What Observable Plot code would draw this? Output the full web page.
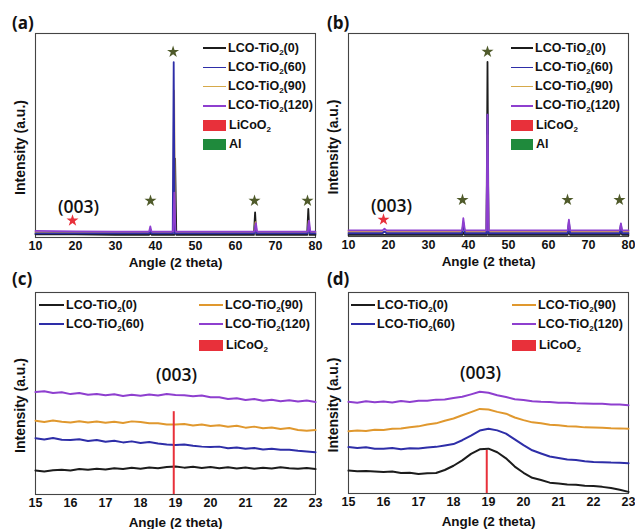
<!DOCTYPE html>
<html><head><meta charset="utf-8">
<script src="https://cdn.jsdelivr.net/npm/d3@7"></script>
<script src="https://cdn.jsdelivr.net/npm/@observablehq/plot@0.6"></script>
<style>
body{margin:0;background:#fff;}
#root{position:relative;width:635px;height:529px;background:#fff;font-family:"Liberation Sans",Arial,sans-serif;overflow:hidden}
.abs{position:absolute}
.lg{position:absolute;font-weight:bold;font-size:12.5px;line-height:14px;color:#111;white-space:nowrap}
.lg sub{font-size:8px;vertical-align:-3px;line-height:0}
.pl{position:absolute;font-family:"Open Sans","Noto Sans",sans-serif;font-weight:bold;font-size:17px;color:#111}
</style>
</head><body><div id="root"></div>
<script>
// ---------- data ----------
const seriesNames = ["LCO-TiO2(0)", "LCO-TiO2(60)", "LCO-TiO2(90)", "LCO-TiO2(120)"];
const ticksWide = [10, 20, 30, 40, 50, 60, 70, 80];
const ticksZoom = [15, 16, 17, 18, 19, 20, 21, 22, 23];

// panel (a): full scan [angle, intensity]
const a0 = [[10,1.6],[20,1.5],[30,1.3],[38.4,1.3],[38.7,2.2],[39,1.3],[44.7,1.3],[44.9,38.7],[45.2,1.3],[64.6,1.3],[64.9,12.3],[65.2,1.3],[77.9,1.3],[78.2,14],[78.5,1.3],[80,1.3]];
const a60 = [[10,2],[30,2],[38.4,2],[38.7,4],[39,2],[44.3,2],[44.55,86],[44.8,2],[64.7,2],[65,6],[65.3,2],[78,2],[78.3,7],[78.6,2],[80,2]];
const a90 = [[10,2.6],[30,2.4],[38.4,2.4],[38.7,3.5],[39,2.4],[44.4,2.4],[44.65,72],[44.9,2.4],[64.7,2.4],[65,7.5],[65.3,2.4],[78,2.4],[78.3,8],[78.6,2.4],[80,2.4]];
const a120 = [[10,3.2],[20,3.0],[30,2.9],[38.4,2.9],[38.7,5.4],[39,2.9],[44.4,2.9],[44.7,22],[45,2.9],[64.8,2.9],[65.1,7],[65.4,2.9],[78.1,2.9],[78.4,8.3],[78.7,2.9],[80,2.9]];
const starsA = [[44.4,91],[38.75,18],[64.75,18],[78,18]];
const redStarA = [[19.25,8.3]];
const labelA = [[20.75,14.7,"(003)"]];

// panel (b)
const b0 = [[10,0.8],[38.5,0.8],[38.8,2],[39.1,0.8],[44.5,0.8],[44.75,86],[45,0.8],[64.8,0.8],[65.1,3],[65.4,0.8],[77.8,0.8],[78.1,3],[78.4,0.8],[80,0.8]];
const b60 = [[10,1.6],[18.5,1.6],[19,2.5],[19.5,1.6],[38.4,1.6],[38.7,7],[39.1,1.6],[44.5,1.6],[44.75,60],[45,1.6],[64.8,1.6],[65.1,7.5],[65.4,1.6],[77.8,1.6],[78.1,6],[78.4,1.6],[80,1.6]];
const b90 = [[10,2.3],[38.4,2.3],[38.7,6],[39.1,2.3],[44.5,2.3],[44.75,50],[45,2.3],[64.8,2.3],[65.1,6],[65.4,2.3],[77.8,2.3],[78.1,5],[78.4,2.3],[80,2.3]];
const b120 = [[10,3],[18.5,3],[19,3.8],[19.5,3],[38.4,3],[38.7,9],[39.1,3],[44.5,3],[44.75,60],[45,3],[64.8,3],[65.1,8.3],[65.4,3],[77.8,3],[78.1,6.5],[78.4,3],[80,3]];
const starsB = [[44.75,91],[38.5,18],[64.75,18],[77.75,18]];
const redStarB = [[18.75,8.3]];
const labelB = [[20.75,14.7,"(003)"]];

// panels (c),(d): zoomed scans around (003)
const angles = [15,15.25,15.5,15.75,16,16.25,16.5,16.75,17,17.25,17.5,17.75,18,18.25,18.5,18.75,19,19.25,19.5,19.75,20,20.25,20.5,20.75,21,21.25,21.5,21.75,22,22.25,22.5,22.75,23];
const c0 = [11.9,11.4,12.0,12.3,11.9,12.6,12.2,12.7,12.4,13.0,12.6,13.2,12.8,13.4,13.0,13.6,13.9,13.3,13.7,13.1,13.6,13.0,13.5,12.9,13.4,12.8,13.3,12.9,13.5,13.0,12.7,13.1,12.6];
const c60 = [27.9,27.2,28.0,27.1,27.0,27.3,26.5,27.0,26.1,26.6,25.8,26.3,25.5,26.0,25.3,24.8,24.5,24.8,24.1,23.7,23.5,23.7,22.9,23.3,22.6,23.0,22.3,22.7,22.1,22.2,21.7,21.3,20.9];
const c90 = [36.5,35.9,36.6,36.0,35.7,36.3,35.6,36.1,35.5,36.0,35.4,36.2,35.9,35.3,35.3,34.7,34.6,34.9,34.2,34.7,33.9,34.3,33.5,34.0,33.1,33.6,32.8,33.2,32.4,32.9,31.9,31.5,31.9];
const c120 = [50.7,51.1,50.2,50.6,49.7,50.2,49.4,49.8,49.1,49.6,48.8,49.4,48.9,49.5,49.0,49.7,49.3,49.1,48.6,49.0,48.1,48.1,47.3,47.7,46.8,47.3,46.4,46.9,46.2,46.7,46.0,46.5,45.8];
const d0 = [11.4,11.1,11.2,11.0,10.7,10.9,10.2,10.3,9.7,10.1,10.2,11.7,13.8,16.5,19.7,22.0,22.3,20.5,17.5,13.4,10.3,7.8,6.7,5.4,5.0,4.5,4.3,3.8,3.7,3.3,2.7,1.9,0.8];
const d60 = [23.1,22.6,23.0,22.3,22.3,22.6,22.0,22.5,22.4,22.9,23.2,23.9,24.6,26.5,28.8,31.3,32.2,31.4,29.8,26.9,24.1,21.5,19.9,18.4,17.7,16.9,16.7,16.1,15.7,15.6,15.4,15.3,15.1];
const d90 = [31.0,31.4,31.1,31.7,31.6,32.2,32.3,33.0,33.4,34.3,34.9,36.2,37.3,38.9,40.5,42.1,41.8,40.6,39.7,37.8,36.5,35.4,34.9,34.2,33.9,33.5,33.3,32.9,32.8,32.7,32.5,32.4,32.2];
const d120 = [45.6,45.2,45.9,45.4,45.8,45.3,46.0,45.5,46.1,46.1,46.7,46.8,47.5,48.1,49.3,50.6,50.1,48.9,48.0,46.9,46.5,45.9,45.6,45.5,45.2,45.2,44.9,44.8,44.6,44.6,44.3,44.3,43.9];
const licoo2Ref = 18.95;
const refTopC = 41, refTopD = 21.4;
const labelC = [[19.03,58.9,"(003)"]];
const labelD = [[18.77,59.7,"(003)"]];

// ---------- style ----------
const col = {k:"#1c1c1c", b:"#2e2ea8", o:"#e0982e", oAB:"#d6a94a", p:"#8e3fcf", red:"#e8303a", green:"#1f8a3c", olive:"#4f5a2a"};
const FONT = '"Liberation Sans", Arial, sans-serif';

const root = document.getElementById("root");

function makePanel(o) {
  const marks = [
    Plot.frame({stroke:"#444", strokeWidth:1.1}),
    ...o.lines.map(([data,c]) => Plot.line(data, {x:d=>d[0], y:d=>d[1], stroke:c, strokeWidth:o.sw||1.5})),
    ...(o.extra||[]),
    Plot.axisX(o.ticks, {tickSize:0, tickPadding:4, label:null, fontSize:12.5, fontWeight:"bold", fill:"#111"}),
    Plot.text(["Angle (2 theta)"], {frameAnchor:"bottom", lineAnchor:"middle", dy:o.xlDy, fontSize:13.5, fontWeight:"bold", fill:"#111"}),
    Plot.text(["Intensity (a.u.)"], {frameAnchor:"left", textAnchor:"middle", lineAnchor:"middle", rotate:-90, dx:-15, dy:12, fontSize:14, fontWeight:"bold", fill:"#111"}),
    Plot.text(o.label, {x:d=>d[0], y:d=>d[1], text:d=>d[2], fontSize:17.5, fontWeight:600, fontFamily:'"Open Sans","Noto Sans",sans-serif', fill:"#111"})
  ];
  const svg = Plot.plot({
    width:o.w, height:o.h, marginLeft:35, marginRight:o.mr, marginTop:o.mt, marginBottom:o.mb,
    style:{fontFamily:FONT, background:"transparent", overflow:"visible"},
    x:{domain:o.xd, axis:null},
    y:{domain:[0,100], axis:null},
    marks
  });
  svg.style.position = "absolute";
  svg.style.left = o.left + "px";
  svg.style.top = o.top + "px";
  root.appendChild(svg);
}

const starMarks = (stars, red) => [
  Plot.dot(stars, {x:d=>d[0], y:d=>d[1], symbol:"star", r:3.8, fill:col.olive, stroke:null}),
  Plot.dot(red, {x:d=>d[0], y:d=>d[1], symbol:"star", r:3.8, fill:col.red, stroke:null})
];

makePanel({left:0, top:0, w:317, h:268, mr:2, mt:33, mb:31, xd:[10,80], ticks:ticksWide, xlDy:25, sw:1.8,
  lines:[[a0,col.k],[a90,col.oAB],[a60,col.b],[a120,col.p]], extra:starMarks(starsA, redStarA), label:labelA});
makePanel({left:313, top:0, w:322, h:268, mr:7, mt:33, mb:32, xd:[10,80], ticks:ticksWide, xlDy:25, sw:1.8,
  lines:[[b0,col.k],[b90,col.oAB],[b60,col.b],[b120,col.p]], extra:starMarks(starsB, redStarB), label:labelB});

const zip = ys => angles.map((a,i)=>[a, ys[i]]);
const refRule = top => [Plot.ruleX([licoo2Ref], {y1:0, y2:top, stroke:col.red, strokeWidth:2})];
makePanel({left:0, top:265, w:317, h:264, mr:2, mt:27, mb:35, xd:[15,23], ticks:ticksZoom, xlDy:28, sw:2,
  lines:[[zip(c0),col.k],[zip(c60),col.b],[zip(c90),col.o],[zip(c120),col.p]], extra:refRule(refTopC), label:labelC});
makePanel({left:313, top:265, w:322, h:264, mr:7, mt:27, mb:36, xd:[15,23], ticks:ticksZoom, xlDy:28, sw:2,
  lines:[[zip(d0),col.k],[zip(d60),col.b],[zip(d90),col.o],[zip(d120),col.p]], extra:refRule(refTopD), label:labelD});

// ---------- legends (HTML) ----------
function sub(name){ return name.replace("TiO2", "TiO<sub>2</sub>"); }
function lgLine(x1, x2, y, color, text) {
  const l = document.createElement("div");
  l.className = "abs";
  Object.assign(l.style, {left:x1+"px", top:(y-0.75)+"px", width:(x2-x1)+"px", height:"1.5px", background:color});
  root.appendChild(l);
  const t = document.createElement("div");
  t.className = "lg";
  t.style.left = (x2+2)+"px"; t.style.top = (y-7.5)+"px";
  t.innerHTML = text;
  root.appendChild(t);
}
function lgSwatch(x1, x2, y, color, text) {
  const s = document.createElement("div");
  s.className = "abs";
  Object.assign(s.style, {left:x1+"px", top:(y-5.5)+"px", width:(x2-x1)+"px", height:"11px", background:color});
  root.appendChild(s);
  const t = document.createElement("div");
  t.className = "lg";
  t.style.left = (x2+3)+"px"; t.style.top = (y-7.5)+"px";
  t.innerHTML = text;
  root.appendChild(t);
}
const licoo2 = "LiCoO<sub>2</sub>";
// (a),(b)
const abColors = [col.k, col.b, col.oAB, col.p];
[[203,226],[511,533]].forEach(([x1,x2])=>{
  seriesNames.forEach((n,i)=>lgLine(x1, x2, 48+19.3*i, abColors[i], sub(n)));
  lgSwatch(x1, x2, 48+19.3*4, col.red, licoo2);
  lgSwatch(x1, x2, 48+19.3*5, col.green, "Al");
});
// (c),(d)
const cdColors = [col.k, col.b, col.o, col.p];
[[39,64,199,223],[351,375,512,536]].forEach(([l1,l2,r1,r2])=>{
  lgLine(l1, l2, 305, cdColors[0], sub(seriesNames[0]));
  lgLine(l1, l2, 324, cdColors[1], sub(seriesNames[1]));
  lgLine(r1, r2, 305, cdColors[2], sub(seriesNames[2]));
  lgLine(r1, r2, 324, cdColors[3], sub(seriesNames[3]));
  lgSwatch(r1, r2, 345, col.red, licoo2);
});

// panel letters
[["(a)",12,11],["(b)",327,11],["(c)",12,267],["(d)",327,267]].forEach(([t,x,y])=>{
  const d = document.createElement("div");
  d.className = "pl"; d.style.left = x+"px"; d.style.top = y+"px"; d.textContent = t;
  root.appendChild(d);
});
</script></body></html>
